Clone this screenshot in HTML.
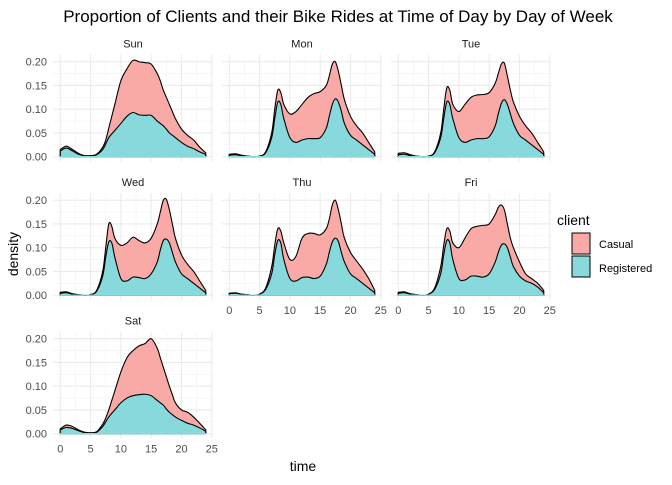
<!DOCTYPE html>
<html><head><meta charset="utf-8"><style>
body{margin:0;background:#fff;font-family:"Liberation Sans",Arial,sans-serif;}
svg text{font-family:"Liberation Sans",Arial,sans-serif;}
</style></head><body>
<svg id="chart" width="672" height="480" xmlns="http://www.w3.org/2000/svg">
<text x="338" y="22" text-anchor="middle" font-size="17" fill="#000">Proportion of Clients and their Bike Rides at Time of Day by Day of Week</text>
<text x="303" y="471" text-anchor="middle" font-size="14" fill="#000">time</text>
<text transform="translate(18,254) rotate(-90)" text-anchor="middle" font-size="14" fill="#000">density</text>
<g>
<text x="557" y="225" font-size="14" fill="#000">client</text>
<g><rect x="572" y="233" width="18" height="21" fill="#F9AAA6" stroke="#000" stroke-width="1"/><text x="599" y="248" font-size="11" fill="#000">Casual</text></g>
<g><rect x="572" y="256" width="18" height="21" fill="#87D9DB" stroke="#000" stroke-width="1"/><text x="599" y="272" font-size="11" fill="#000">Registered</text></g>
</g>
<g id="panels"></g>
</svg>
<script>
const hours=[0,1,2,3,4,5,6,7,7.5,8,8.5,9,10,11,12,13,14,15,16,16.5,17,17.5,18,18.5,19,20,21,22,23,24];
const days=["Sun","Mon","Tue","Wed","Thu","Fri","Sat"];
const totalSun=[.015,.022,.015,.007,.002,.002,.005,.02,.035,.06,.085,.11,.16,.185,.203,.2,.198,.195,.175,.16,.14,.125,.11,.095,.08,.058,.045,.035,.02,.008];
const regSun=[.012,.018,.012,.005,.002,.002,.004,.015,.027,.04,.048,.055,.07,.085,.093,.088,.087,.087,.075,.07,.065,.058,.05,.045,.04,.03,.022,.017,.01,.005];
const totalMon=[.005,.006,.003,.001,0,.001,.01,.05,.1,.14,.135,.11,.09,.095,.11,.125,.133,.137,.15,.17,.195,.2,.18,.15,.12,.085,.065,.05,.03,.01];
const regMon=[.003,.004,.002,.001,0,.001,.008,.04,.08,.115,.11,.08,.04,.03,.035,.038,.038,.04,.06,.085,.11,.122,.115,.095,.07,.045,.035,.025,.015,.005];
const totalTue=[.007,.008,.004,.001,0,.001,.01,.05,.1,.145,.14,.11,.095,.11,.125,.13,.131,.135,.155,.175,.195,.197,.17,.14,.115,.085,.065,.05,.03,.01];
const regTue=[.004,.005,.002,.001,0,.001,.008,.04,.08,.115,.11,.08,.04,.03,.035,.038,.038,.042,.065,.09,.112,.12,.11,.09,.07,.045,.035,.025,.015,.005];
const totalWed=[.006,.007,.003,.001,0,.001,.01,.05,.1,.15,.145,.12,.105,.11,.122,.115,.11,.12,.15,.175,.2,.202,.18,.15,.12,.085,.065,.05,.03,.01];
const regWed=[.004,.005,.002,.001,0,.001,.008,.04,.08,.112,.11,.08,.035,.03,.038,.037,.035,.045,.07,.095,.115,.118,.11,.09,.07,.045,.035,.025,.015,.005];
const totalThu=[.004,.005,.002,.001,0,.002,.015,.06,.105,.14,.135,.11,.075,.082,.12,.13,.13,.127,.14,.16,.19,.2,.18,.15,.12,.09,.072,.055,.035,.01];
const regThu=[.003,.004,.002,.001,0,.002,.012,.045,.085,.115,.11,.075,.035,.03,.037,.038,.035,.04,.065,.09,.112,.12,.113,.09,.07,.045,.035,.025,.015,.005];
const totalFri=[.006,.007,.003,.001,0,.002,.015,.06,.105,.14,.135,.11,.1,.12,.14,.145,.147,.15,.17,.185,.19,.18,.15,.12,.1,.07,.045,.035,.025,.01];
const regFri=[.004,.005,.002,.001,0,.002,.012,.045,.085,.115,.11,.075,.035,.032,.04,.04,.038,.045,.07,.09,.105,.108,.1,.08,.06,.04,.03,.025,.017,.005];
const totalSat=[.01,.018,.015,.008,.003,.002,.004,.02,.033,.05,.07,.09,.13,.16,.175,.185,.19,.2,.18,.16,.14,.12,.1,.082,.065,.05,.045,.035,.022,.008];
const regSat=[.008,.013,.011,.006,.002,.001,.003,.015,.025,.035,.043,.05,.065,.075,.08,.082,.083,.08,.07,.065,.06,.052,.045,.04,.035,.028,.022,.018,.012,.005];
const totals=[totalSun,totalMon,totalTue,totalWed,totalThu,totalFri,totalSat];
const regs=[regSun,regMon,regTue,regWed,regThu,regFri,regSat];
const xTicks=[0,5,10,15,20,25];
const yTicks=[0,0.05,0.10,0.15,0.20];
const yTickLabels=["0.00","0.05","0.10","0.15","0.20"];

const NS="http://www.w3.org/2000/svg";
const root=document.getElementById("panels");
const PW=160,PH=107;
function mk(t,a,p){const e=document.createElementNS(NS,t);for(const k in a)e.setAttribute(k,a[k]);p.appendChild(e);return e;}
function path(pts){let d="M"+pts[0][0]+","+pts[0][1];
 for(let i=0;i<pts.length-1;i++){const p0=pts[Math.max(0,i-1)],p1=pts[i],p2=pts[i+1],p3=pts[Math.min(pts.length-1,i+2)];
  const c1=[p1[0]+(p2[0]-p0[0])/6,p1[1]+(p2[1]-p0[1])/6],c2=[p2[0]-(p3[0]-p1[0])/6,p2[1]-(p3[1]-p1[1])/6];
  d+=" C"+c1[0].toFixed(2)+","+c1[1].toFixed(2)+" "+c2[0].toFixed(2)+","+c2[1].toFixed(2)+" "+p2[0].toFixed(2)+","+p2[1].toFixed(2);}
 return d;}
days.forEach((day,i)=>{
 const c=i%3,r=Math.floor(i/3);
 const L=53+c*169,T=54.5+r*138.5,B=T+PH;
 const xs=v=>L+(v+1.2)/26.4*PW;
 const ys=v=>B-(v+0.01025)/0.2255*PH;
 const g=mk("g",{},root);
 
 
 const st=mk("text",{x:L+PW/2,y:T-7,"text-anchor":"middle","font-size":"11",fill:"#1a1a1a"},g);st.textContent=day;
 
 
 for(let v=2.5;v<=25;v+=5)mk("line",{x1:xs(v),x2:xs(v),y1:T,y2:B,stroke:"#f2f2f2","stroke-width":"0.6"},g);
 for(let v=0.025;v<0.21;v+=0.05)mk("line",{x1:L,x2:L+PW,y1:ys(v),y2:ys(v),stroke:"#f2f2f2","stroke-width":"0.6"},g);
 xTicks.forEach(v=>mk("line",{x1:xs(v),x2:xs(v),y1:T,y2:B,stroke:"#ebebeb","stroke-width":"1.1"},g));
 yTicks.forEach(v=>mk("line",{x1:L,x2:L+PW,y1:ys(v),y2:ys(v),stroke:"#ebebeb","stroke-width":"1.1"},g));
 const tp=hours.map((h,k)=>[xs(h),ys(totals[i][k])]);
 const rp=hours.map((h,k)=>[xs(h),ys(regs[i][k])]);
 const base=ys(0);
 const a1=mk("path",{d:path(tp)+" L"+xs(24)+","+base+" L"+xs(0)+","+base+" Z",fill:"#F9AAA6",stroke:"#000","stroke-width":"1.1"},g);
 
 
 const a2=mk("path",{d:path(rp)+" L"+xs(24)+","+base+" L"+xs(0)+","+base+" Z",fill:"#87D9DB",stroke:"#000","stroke-width":"1.1"},g);
 
 
 mk("line",{x1:xs(0)-0.5,x2:xs(24)+0.5,y1:base,y2:base,stroke:"#87D9DB","stroke-width":"1.2"},g);
 if(c===0){yTicks.forEach((v,k)=>{const t=mk("text",{x:L-6,y:ys(v)+4,"text-anchor":"end","font-size":"11",fill:"#4d4d4d"},g);t.textContent=yTickLabels[k];
  
  });}
 if(i===4||i===5||i===6){xTicks.forEach(v=>{const t=mk("text",{x:xs(v),y:B+14,"text-anchor":"middle","font-size":"11",fill:"#4d4d4d"},g);t.textContent=v;
  
  });}
});
</script>
</body></html>
